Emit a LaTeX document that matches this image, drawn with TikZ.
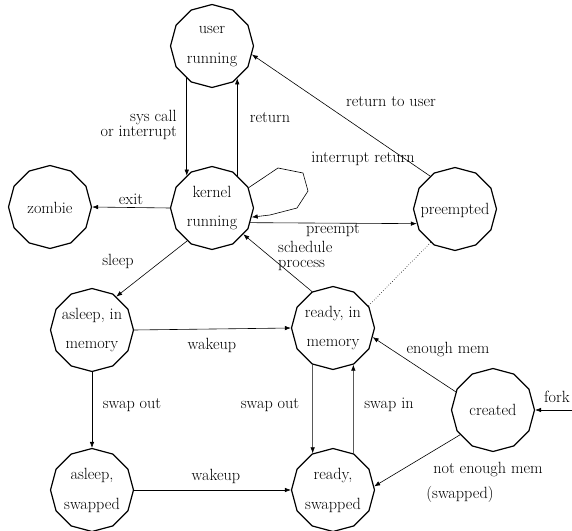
\documentclass[tikz,border=0pt]{standalone}
\usetikzlibrary{shapes.geometric,arrows.meta}
\begin{document}
\begin{tikzpicture}[x=1bp,y=-1bp,
  state/.style={draw,regular polygon,regular polygon sides=12,shape border rotate=15,
    minimum size=83bp,inner sep=0pt,line width=1.2bp},
  stext/.style={align=center,font=\fontsize{16.3}{30}\selectfont,inner sep=0pt},
  lbl/.style={font=\fontsize{16.3}{15}\selectfont,inner sep=0pt},
  conn/.style={line width=0.6bp,-{Latex[length=6bp,width=4.5bp]}},
]
\useasboundingbox (0,0) rectangle (572,531);
\node[state] (user) at (212,46) {};
\node[stext] (userT) at (212,47) {user\\running};
\node[state] (kernel) at (212,208) {};
\node[stext] (kernelT) at (212,208) {kernel\\running};
\node[state] (zombie) at (50,207) {};
\node[stext] (zombieT) at (50,208) {zombie};
\node[state] (pre) at (455,209) {};
\node[stext] (preT) at (455,210) {preempted};
\node[state] (asM) at (92,330) {};
\node[stext] (asMT) at (92,330) {asleep, in\\memory};
\node[state] (rdM) at (333,328) {};
\node[stext] (rdMT) at (333,328) {ready, in\\memory};
\node[state] (asS) at (92,490) {};
\node[stext] (asST) at (92,490) {asleep,\\swapped};
\node[state] (rdS) at (333,490) {};
\node[stext] (rdST) at (333,490) {ready,\\swapped};
\node[state] (cr) at (493,410) {};
\node[stext] (crT) at (493,410) {created};
\coordinate (forkin) at (572,410);

\draw[conn] (user.232) -- (kernel.128);
\draw[conn] (kernel.52) -- (user.308);
\draw[conn] (pre.127) -- (user.348);
\draw[conn] (kernel.29) -- (278,168) -- (303,173) -- (308,191) -- (297,208) -- (270,215) -- (kernel.347);
\draw[conn] (kernel.west) -- (zombie.east);
\draw[conn] (kernel.339) -- (pre.201);
\draw[conn] (kernel.233) -- (asM.54);
\draw[conn] (rdM.120) -- (kernel.320);
\draw[line width=0.6bp,dotted] (pre.234) -- (rdM.32);
\draw[conn] (asM.east) -- (rdM.west);
\draw[conn] (asM.south) -- (asS.north);
\draw[conn] (asS.east) -- (rdS.west);
\draw[conn] (rdM.241) -- (rdS.119);
\draw[conn] (rdS.61) -- (rdM.299);
\draw[conn] (cr.154) -- (rdM.347);
\draw[conn] (cr.217) -- (rdS.5);
\draw[conn] (forkin) -- (cr.east);

\node[lbl,align=right,anchor=east] (l1) at (177,125) {sys call\\or interrupt};
\node[lbl] (l2) at (270,118) {return};
\node[lbl] (l3) at (391,102) {return to user};
\node[lbl] (l4) at (363,159) {interrupt return};
\node[lbl] (l5) at (131,199) {exit};
\node[lbl] (l6) at (333,230) {preempt};
\node[lbl,align=left,anchor=west] (l7) at (278,256) {schedule\\process};
\node[lbl] (l8) at (118,261) {sleep};
\node[lbl] (l9) at (212,345) {wakeup};
\node[lbl] (l10) at (216,476) {wakeup};
\node[lbl] (l11) at (132,405) {swap out};
\node[lbl] (l12) at (270,405) {swap out};
\node[lbl] (l13) at (389,405) {swap in};
\node[lbl] (l14) at (448,350) {enough mem};
\node[lbl] (l15) at (488,470) {not enough mem};
\node[lbl] (l16) at (460,494) {(swapped)};
\node[lbl] (l17) at (557,397) {fork};
\end{tikzpicture}
\end{document}
